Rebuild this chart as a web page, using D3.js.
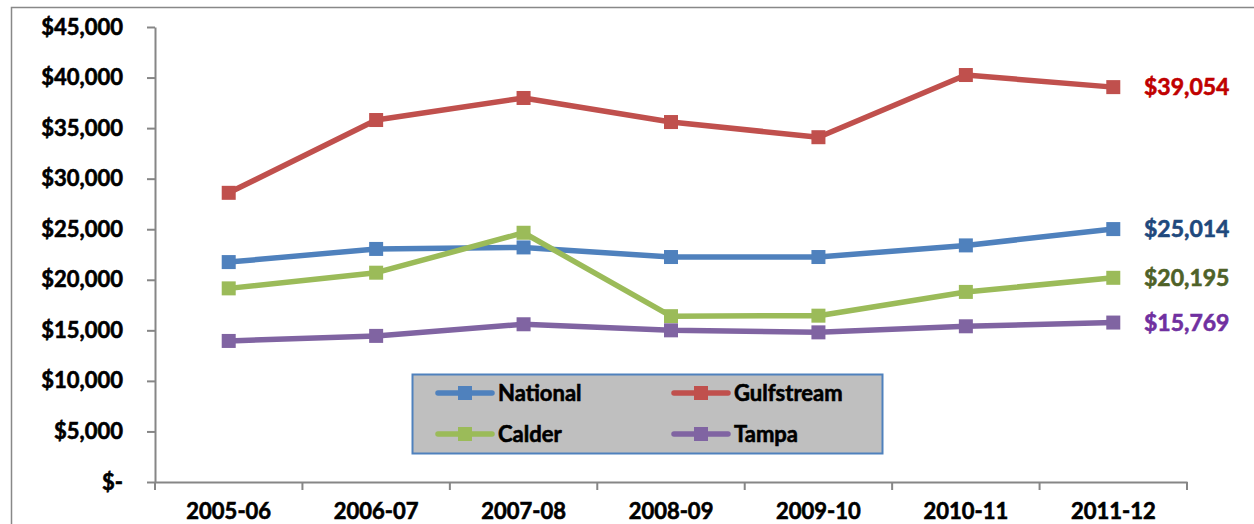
<!DOCTYPE html>
<html>
<head>
<meta charset="utf-8">
<script src="https://cdn.jsdelivr.net/npm/d3@7"></script>
<style>
  html, body { margin: 0; padding: 0; background: #fff; }
  svg { display: block; }
  text { font-family: Lato, "Open Sans", sans-serif; font-weight: bold; stroke-width: 0.6px; }
</style>
</head>
<body>
<svg id="chart" width="1254" height="524"></svg>
<script>
const categories = ["2005-06", "2006-07", "2007-08", "2008-09", "2009-10", "2010-11", "2011-12"];
const seriesNames = ["National", "Gulfstream", "Calder", "Tampa"];
const national   = [21750, 23050, 23200, 22250, 22250, 23400, 25014];
const gulfstream = [28600, 35800, 37980, 35600, 34100, 40250, 39054];
const calder     = [19150, 20700, 24650, 16400, 16450, 18800, 20195];
const tampa      = [13950, 14450, 15600, 15000, 14800, 15400, 15769];
const yTicks = [0, 5000, 10000, 15000, 20000, 25000, 30000, 35000, 40000, 45000];
const endLabels = ["$25,014", "$39,054", "$20,195", "$15,769"];

const colors = ["#4f81bd", "#c0504d", "#9bbb59", "#8064a2"];
const labelColors = ["#1f497d", "#c00000", "#4f6228", "#7030a0"];
const allSeries = [national, gulfstream, calder, tampa];

const svg = d3.select("#chart");
const pLeft = 155, pRight = 1187, pTop = 27, pBottom = 482;

// outer frame
svg.append("rect").attr("x", 11.5).attr("y", 7.5).attr("width", 1300).attr("height", 600)
  .attr("fill", "none").attr("stroke", "#888").attr("stroke-width", 1.5);

const x = d3.scaleBand().domain(categories).range([pLeft, pRight]);
const y = d3.scaleLinear().domain([0, 45000]).range([pBottom, pTop]);

const fmt = v => v === 0 ? "$-" : "$" + d3.format(",")(v);

// y axis
const yAxis = svg.append("g").attr("transform", `translate(${pLeft},0)`)
  .call(d3.axisLeft(y).tickValues(yTicks).tickFormat(fmt).tickSize(8).tickPadding(24).tickSizeOuter(0));
yAxis.select(".domain").attr("stroke", "#868686").attr("stroke-width", 2);
yAxis.selectAll(".tick line").attr("stroke", "#868686").attr("stroke-width", 2);
yAxis.selectAll("text").attr("font-size", 22).attr("fill", "#000").attr("stroke", "#000")
  .attr("font-family", "Lato, sans-serif").attr("font-weight", "bold");

// x axis
const xAxis = svg.append("g").attr("transform", `translate(0,${pBottom})`)
  .call(d3.axisBottom(x).tickSize(0).tickPadding(21));
xAxis.select(".domain").attr("stroke", "#868686").attr("stroke-width", 2);
xAxis.selectAll("text").attr("font-size", 22).attr("fill", "#000").attr("stroke", "#000")
  .attr("font-family", "Lato, sans-serif").attr("font-weight", "bold");
// category boundary ticks
const bounds = categories.map(c => x(c)).concat([x(categories[categories.length - 1]) + x.bandwidth()]);
svg.append("g").selectAll("line").data(bounds).join("line")
  .attr("x1", d => d).attr("x2", d => d).attr("y1", pBottom).attr("y2", pBottom + 8)
  .attr("stroke", "#868686").attr("stroke-width", 2);

const cx = c => x(c) + x.bandwidth() / 2;
const line = d3.line().x((d, i) => cx(categories[i])).y(d => y(d));
const ms = 14;

allSeries.forEach((vals, s) => {
  const g = svg.append("g");
  g.append("path").datum(vals).attr("d", line).attr("fill", "none")
    .attr("stroke", colors[s]).attr("stroke-width", 5.5).attr("stroke-linejoin", "round");
  g.selectAll("rect").data(vals).join("rect")
    .attr("x", (d, i) => cx(categories[i]) - ms / 2)
    .attr("y", d => y(d) - ms / 2)
    .attr("width", ms).attr("height", ms).attr("fill", colors[s]);
  const last = vals[vals.length - 1];
  svg.append("text").attr("x", 1144).attr("y", y(last)).attr("dy", "0.36em")
    .attr("font-size", 23).attr("fill", labelColors[s]).attr("stroke", labelColors[s]).text(endLabels[s]);
});

// legend
const lg = svg.append("g");
lg.append("rect").attr("x", 412.5).attr("y", 374.5).attr("width", 470).attr("height", 79)
  .attr("fill", "#bfbfbf").attr("stroke", "#4f81bd").attr("stroke-width", 2);
const legPos = [[438, 393], [674, 393], [438, 434], [674, 434]];
seriesNames.forEach((n, i) => {
  const [lx, ly] = legPos[i];
  lg.append("line").attr("x1", lx).attr("x2", lx + 54).attr("y1", ly).attr("y2", ly)
    .attr("stroke", colors[i]).attr("stroke-width", 5.5).attr("stroke-linecap", "round");
  lg.append("rect").attr("x", lx + 27 - 7).attr("y", ly - 7).attr("width", 14).attr("height", 14)
    .attr("fill", colors[i]);
  lg.append("text").attr("x", lx + 60).attr("y", ly).attr("dy", "0.36em")
    .attr("font-size", 22).attr("fill", "#000").attr("stroke", "#000").text(n);
});
</script>
</body>
</html>
